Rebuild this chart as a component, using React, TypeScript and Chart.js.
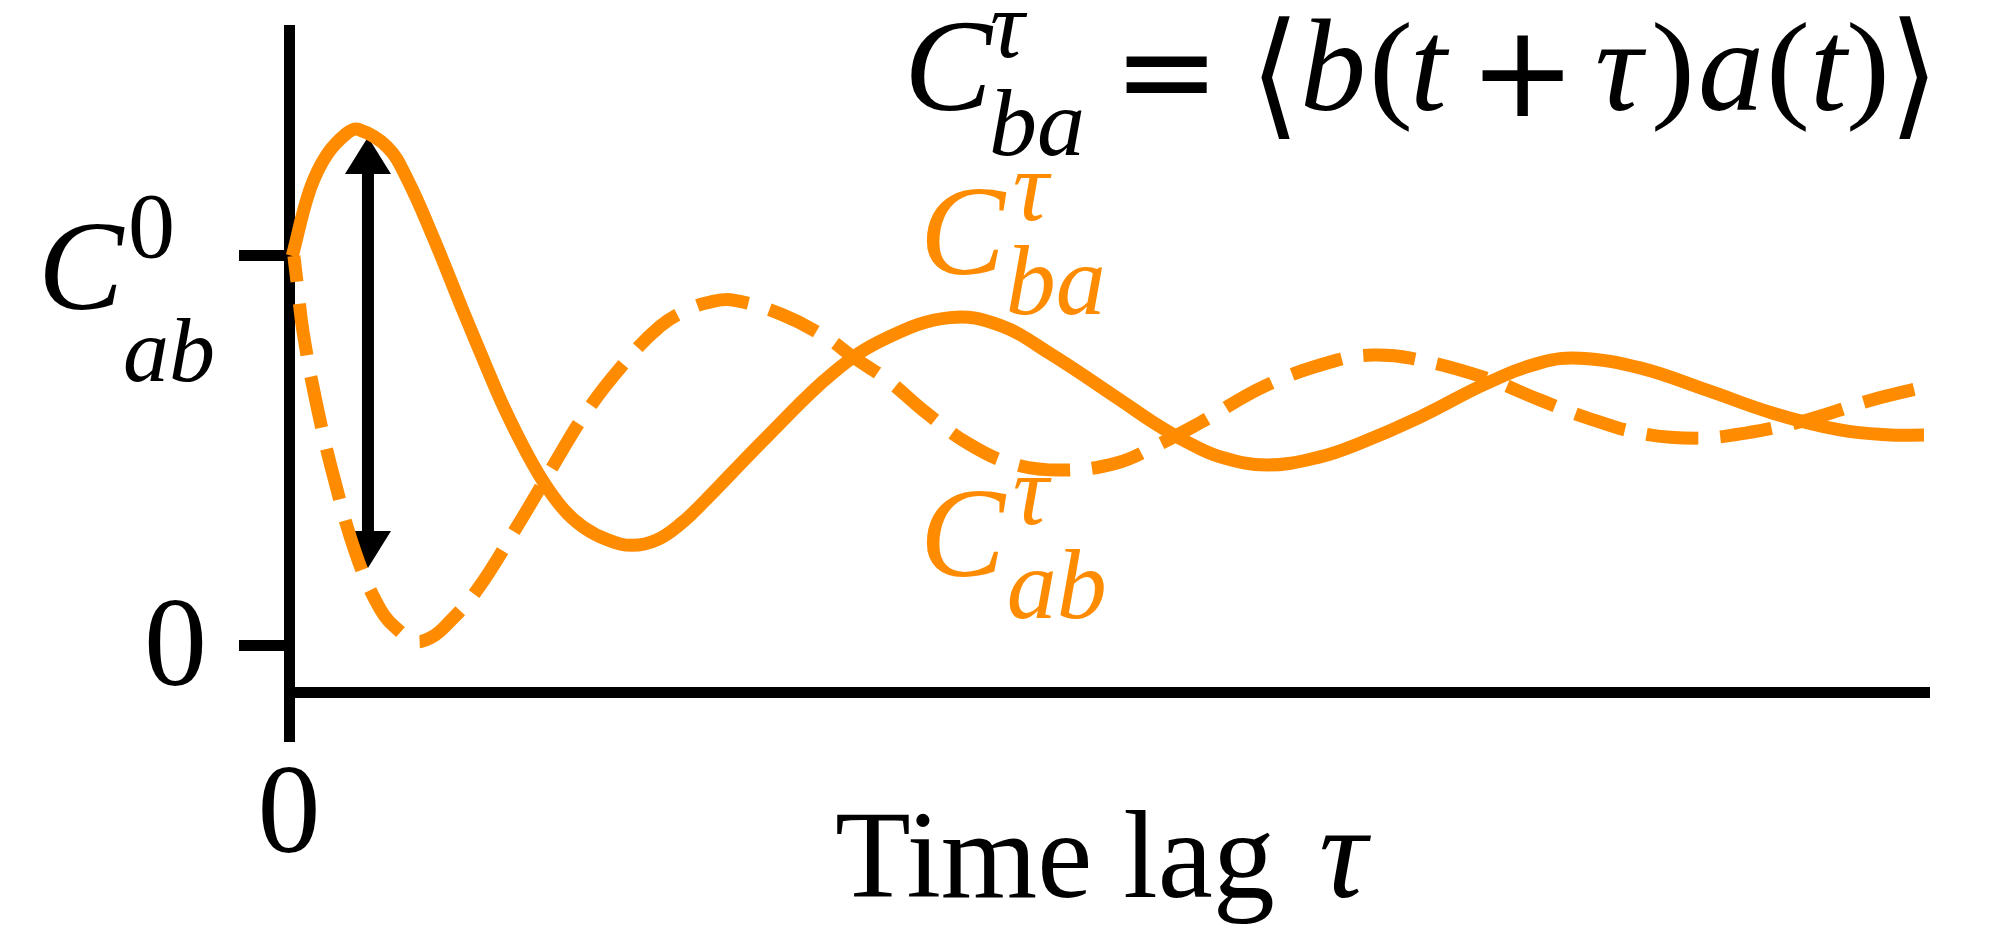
import { useEffect, useRef } from "react";
import { Chart, registerables } from "chart.js";

Chart.register(...registerables);

const ORANGE = "#ff8c00";
const SERIF = '"Liberation Serif", "Times New Roman", serif';
const SANS = '"DejaVu Sans", "Liberation Sans", sans-serif';
const MATH_FALLBACK = '"DejaVu Serif", "DejaVu Sans", "Liberation Serif", serif';

// Time lag τ (arbitrary units) for the solid curve C_ba^τ
const tauBA = [
  0.02, 0.128, 0.232, 0.355, 0.422, 0.6, 0.72, 0.88, 1.064, 1.223, 1.3, 1.41,
  1.55, 1.68, 1.8, 1.95, 2.1, 2.25, 2.4, 2.55, 2.7, 2.92, 3.327, 3.657, 4.043,
  4.349, 4.654, 5.083, 5.284, 5.492, 5.694, 5.982, 6.306, 6.55, 6.917, 7.327,
  7.651, 7.896, 8.263, 8.673, 9.076, 9.486, 9.792, 10.0,
];
// C_ba^τ, in units of C_ab^0
const cBA = [
  1.0, 1.17, 1.26, 1.315, 1.325, 1.28, 1.2, 1.05, 0.86, 0.7, 0.625, 0.53,
  0.425, 0.35, 0.305, 0.272, 0.258, 0.272, 0.315, 0.375, 0.44, 0.535, 0.7, 0.79, 0.842,
  0.822, 0.75, 0.631, 0.574, 0.523, 0.485, 0.464, 0.485, 0.52, 0.587, 0.674,
  0.726, 0.738, 0.713, 0.656, 0.597, 0.554, 0.541, 0.541,
];

// Time lag τ for the dashed curve C_ab^τ
const tauAB = [
  0.03, 0.05, 0.086, 0.171, 0.275, 0.41, 0.557, 0.67, 0.777, 0.87, 0.954, 1.144,
  1.4, 1.627, 1.81, 2.04, 2.27, 2.45, 2.575, 2.716, 3.02, 3.29, 3.45, 3.66, 3.9,
  4.15, 4.41, 4.72, 5.06, 5.31, 5.57, 5.98, 6.41, 6.63, 6.86, 7.3, 7.65, 7.94,
  8.26, 8.61, 8.91, 9.28, 9.68, 10.0,
];
// C_ab^τ, in units of C_ab^0
const cAB = [
  1.0, 0.93, 0.805, 0.615, 0.431, 0.235, 0.095, 0.04, 0.012, 0.022, 0.05, 0.14,
  0.31, 0.47, 0.595, 0.72, 0.82, 0.865, 0.882, 0.887, 0.849, 0.79, 0.741, 0.682, 0.597,
  0.52, 0.469, 0.451, 0.469, 0.515, 0.572, 0.669, 0.733, 0.746, 0.738, 0.69, 0.631, 0.585,
  0.546, 0.533, 0.546, 0.579, 0.631, 0.664,
];

// Axis ticks
const xTickValues = [0];
const xTickLabels = ["0"];
const yTickValues = [0, 1];
const yTickLabels = ["0", ""]; // the value-1 tick carries the typeset C_ab^0 label

// Double arrow marking the amplitude at a small lag
const arrowTau = 0.483;
const arrowTop = 1.305;
const arrowBottom = 0.2;

// Axis ranges
const X_MIN = 0;
const X_MAX = 10;
const Y_MIN = -0.2308;
const Y_MAX = 1.5795;
const X_AXIS_AT = -0.118;

// One run of typeset text; dx/dy are offsets of its ink-left edge and baseline
// (or ink top when `top` is set) from the anchor of the expression.
type Piece = {
  text: string;
  dx: number;
  dy: number;
  size: number;
  italic?: boolean;
  family?: string;
  top?: boolean;
  height?: number;
};

function typeset(
  ctx: CanvasRenderingContext2D,
  x: number,
  y: number,
  pieces: Piece[],
  color: string
) {
  ctx.save();
  ctx.fillStyle = color;
  ctx.textAlign = "left";
  ctx.textBaseline = "alphabetic";
  for (const p of pieces) {
    ctx.font = `${p.italic ? "italic " : ""}${p.size}px ${p.family ?? SERIF}`;
    const m = ctx.measureText(p.text);
    const asc = m.actualBoundingBoxAscent;
    const desc = m.actualBoundingBoxDescent;
    const sy = p.height ? p.height / (asc + desc) : 1;
    const ox = x + p.dx + m.actualBoundingBoxLeft;
    const oy = p.top ? y + p.dy + asc * sy : y + p.dy;
    ctx.save();
    ctx.translate(ox, oy);
    ctx.scale(1, sy);
    ctx.fillText(p.text, 0, 0);
    ctx.restore();
  }
  ctx.restore();
}

const formula: Piece[] = [
  { text: "C", dx: 0, dy: 0, size: 132, italic: true },
  { text: "τ", dx: 81, dy: -53, size: 96, italic: true },
  { text: "ba", dx: 81, dy: 45, size: 96, italic: true },
  { text: "=", dx: 215, dy: -54, size: 128, family: SANS, top: true },
  { text: "⟨", dx: 350, dy: -95, size: 128, family: MATH_FALLBACK, top: true, height: 124 },
  { text: "b", dx: 393, dy: 0, size: 132, italic: true },
  { text: "(", dx: 463, dy: -88, size: 132, top: true, height: 111 },
  { text: "t", dx: 504, dy: 0, size: 132, italic: true },
  { text: "+", dx: 571, dy: -75, size: 128, family: SANS, top: true },
  { text: "τ", dx: 686, dy: 0, size: 132, italic: true },
  { text: ")", dx: 744, dy: -88, size: 132, top: true, height: 111 },
  { text: "a", dx: 790, dy: 0, size: 132, italic: true },
  { text: "(", dx: 860, dy: -88, size: 132, top: true, height: 111 },
  { text: "t", dx: 904, dy: 0, size: 132, italic: true },
  { text: ")", dx: 939, dy: -88, size: 132, top: true, height: 111 },
  { text: "⟩", dx: 988, dy: -95, size: 128, family: MATH_FALLBACK, top: true, height: 124 },
];

const labelBA: Piece[] = [
  { text: "C", dx: 0, dy: 0, size: 128, italic: true },
  { text: "τ", dx: 88, dy: -54, size: 100, italic: true },
  { text: "ba", dx: 82, dy: 40, size: 100, italic: true },
];

const labelAB: Piece[] = [
  { text: "C", dx: 0, dy: 0, size: 128, italic: true },
  { text: "τ", dx: 88, dy: -52, size: 100, italic: true },
  { text: "ab", dx: 82, dy: 42, size: 100, italic: true },
];

const labelC0: Piece[] = [
  { text: "C", dx: 0, dy: 0, size: 128, italic: true },
  { text: "0", dx: 86, dy: -52, size: 94 },
  { text: "ab", dx: 80, dy: 72, size: 92, italic: true },
];

const axisTitle: Piece[] = [
  { text: "Time lag", dx: 0, dy: 0, size: 124 },
  { text: "τ", dx: 484, dy: 0, size: 134, italic: true },
];

const arrowPlugin = {
  id: "amplitudeArrow",
  beforeDatasetsDraw(chart: Chart) {
    const { ctx, scales } = chart;
    const x = scales.x.getPixelForValue(arrowTau);
    const y1 = scales.y.getPixelForValue(arrowTop);
    const y2 = scales.y.getPixelForValue(arrowBottom);
    const head = 37;
    const halfHead = 23;
    ctx.save();
    ctx.fillStyle = "#000";
    ctx.fillRect(x - 6, y1 + head - 1, 12, y2 - y1 - 2 * head + 2);
    ctx.beginPath();
    ctx.moveTo(x, y1);
    ctx.lineTo(x - halfHead, y1 + head);
    ctx.lineTo(x + halfHead, y1 + head);
    ctx.closePath();
    ctx.fill();
    ctx.beginPath();
    ctx.moveTo(x, y2);
    ctx.lineTo(x - halfHead, y2 - head);
    ctx.lineTo(x + halfHead, y2 - head);
    ctx.closePath();
    ctx.fill();
    ctx.restore();
  },
};

const labelPlugin = {
  id: "mathLabels",
  afterDraw(chart: Chart) {
    const { ctx, scales } = chart;
    const xs = scales.x;
    const ys = scales.y;
    // defining relation, top right
    typeset(ctx, 911, 110, formula, "#000");
    // curve names, placed in data space next to their curves
    typeset(ctx, xs.getPixelForValue(3.9), ys.getPixelForValue(0.955), labelBA, ORANGE);
    typeset(ctx, xs.getPixelForValue(3.9), ys.getPixelForValue(0.18), labelAB, ORANGE);
    // C_ab^0 next to the value-1 tick
    typeset(ctx, 45, ys.getPixelForValue(1) + 53, labelC0, "#000");
    // x-axis title
    typeset(ctx, 837, 897, axisTitle, "#000");
  },
};

export default function App() {
  const canvasRef = useRef<HTMLCanvasElement>(null);

  useEffect(() => {
    const canvas = canvasRef.current;
    if (!canvas) return;
    const chart = new Chart(canvas, {
      type: "line",
      data: {
        datasets: [
          {
            label: "C_ba",
            data: tauBA.map((t, i) => ({ x: t, y: cBA[i] })),
            borderColor: ORANGE,
            borderWidth: 13,
            pointRadius: 0,
            tension: 0.4,
            borderCapStyle: "butt",
            fill: false,
            clip: false,
          },
          {
            label: "C_ab",
            data: tauAB.map((t, i) => ({ x: t, y: cAB[i] })),
            borderColor: ORANGE,
            borderWidth: 13,
            borderDash: [52, 22],
            borderDashOffset: 26,
            pointRadius: 0,
            tension: 0.4,
            borderCapStyle: "butt",
            fill: false,
            clip: false,
          },
        ],
      },
      options: {
        responsive: false,
        animation: false,
        devicePixelRatio: 1,
        events: [],
        layout: { padding: { left: 0, top: 30, right: 73, bottom: 189 } },
        plugins: {
          legend: { display: false },
          tooltip: { enabled: false },
        },
        scales: {
          x: {
            type: "linear",
            min: X_MIN,
            max: X_MAX,
            position: { y: X_AXIS_AT },
            border: { display: true, color: "#000", width: 11 },
            grid: { display: false, lineWidth: 11 },
            afterBuildTicks: (scale: any) => {
              scale.ticks = xTickValues.map((value) => ({ value }));
            },
            afterFit: (scale: any) => {
              scale.paddingLeft = 0;
              scale.paddingRight = 0;
            },
            ticks: {
              autoSkip: false,
              maxRotation: 0,
              color: "#000",
              padding: 43,
              font: { family: SERIF, size: 126 },
              callback: (v: any) => xTickLabels[xTickValues.indexOf(Number(v))] ?? "",
            },
          },
          y: {
            type: "linear",
            min: Y_MIN,
            max: Y_MAX,
            border: { display: true, color: "#000", width: 11 },
            grid: {
              display: true,
              drawOnChartArea: false,
              drawTicks: true,
              tickLength: 50,
              tickWidth: 11,
              tickColor: "#000",
              color: "#000",
              lineWidth: 11,
            },
            afterBuildTicks: (scale: any) => {
              scale.ticks = yTickValues.map((value) => ({ value }));
            },
            afterFit: (scale: any) => {
              scale.width = 289;
              scale.paddingTop = 0;
              scale.paddingBottom = 0;
            },
            ticks: {
              autoSkip: false,
              color: "#000",
              padding: 32,
              labelOffset: 6,
              font: { family: SERIF, size: 126 },
              callback: (v: any) => yTickLabels[yTickValues.indexOf(Number(v))] ?? "",
            },
          },
        },
      },
      plugins: [arrowPlugin, labelPlugin],
    } as any);
    return () => chart.destroy();
  }, []);

  return (
    <div style={{ position: "fixed", left: 0, top: 0, width: 1997, height: 925, background: "#fff" }}>
      <canvas ref={canvasRef} width={1997} height={925} style={{ display: "block" }} />
    </div>
  );
}
